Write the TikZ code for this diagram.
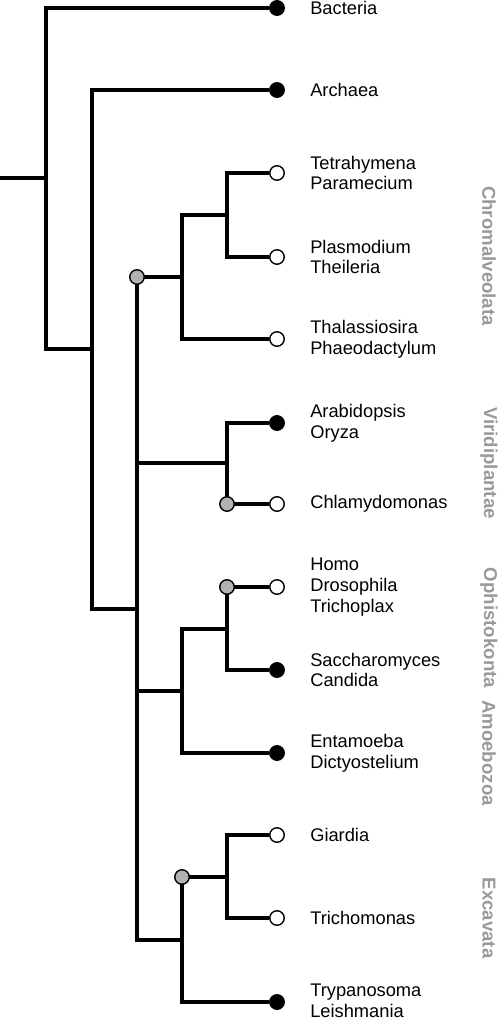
\documentclass[tikz,border=0pt]{standalone}
\usepackage{fontspec}
\setmainfont{Liberation Sans}
\usepackage{tikz}
\usetikzlibrary{positioning}
\definecolor{nodegray}{RGB}{178,178,178}
\definecolor{cladegray}{RGB}{153,153,153}
\tikzset{
    branch/.style={line width=1.9pt, black},
    tipfull/.style={circle, draw=black, fill=black, line width=0.8pt, minimum size=0.29cm, inner sep=0pt},
    tipempty/.style={tipfull, fill=white},
    gaindot/.style={tipfull, fill=nodegray},
    taxon/.style={align=left, inner sep=0pt, font=\fontsize{10.4}{11.8}\selectfont},
    clade/.style={rotate=-90, inner sep=0pt, text=cladegray, font=\fontsize{10.6}{12.5}\selectfont\bfseries}
}

\begin{document}
\begin{tikzpicture}[x=0.2mm, y=-0.2mm]
    \useasboundingbox (0,0) rectangle (500,1019);

    % Internal nodes
    \coordinate (stub) at (0,178);
    \coordinate (root) at (46,178);
    \coordinate (life) at (92,349);
    \coordinate (euk) at (137,609);
    \coordinate (chrom) at (182,277);
    \coordinate (alveo) at (227,215);
    \coordinate (viri) at (227,463);
    \coordinate (opam) at (182,691);
    \coordinate (opis) at (227,629);
    \coordinate (exc) at (182,940);
    \coordinate (gitr) at (227,877);

    % Tips
    \node[tipfull] (bact) at (277,8) {};
    \node[tipfull] (arch) at (277,90) {};
    \node[tipempty] (tetra) at (277,173) {};
    \node[tipempty] (plas) at (277,257) {};
    \node[tipempty] (thal) at (277,339) {};
    \node[tipfull] (arab) at (277,423) {};
    \node[tipempty] (chla) at (277,504) {};
    \node[tipempty] (homo) at (277,587) {};
    \node[tipfull] (sacc) at (277,670) {};
    \node[tipfull] (enta) at (277,753) {};
    \node[tipempty] (giar) at (277,835) {};
    \node[tipempty] (tric) at (277,918) {};
    \node[tipfull] (tryp) at (277,1002) {};

    % Taxon names
    \node[taxon, right=0.5cm of bact] (bactname) {Bacteria};
    \node[taxon, right=0.5cm of arch] (archname) {Archaea};
    \node[taxon, right=0.5cm of tetra] (tetraname) {Tetrahymena\\Paramecium};
    \node[taxon, right=0.5cm of plas] (plasname) {Plasmodium\\Theileria};
    \node[taxon, right=0.5cm of thal] (thalname) {Thalassiosira\\Phaeodactylum};
    \node[taxon, right=0.5cm of arab] (arabname) {Arabidopsis\\Oryza};
    \node[taxon, right=0.5cm of chla] (chlaname) {Chlamydomonas};
    \node[taxon, right=0.5cm of homo] (homoname) {Homo\\Drosophila\\Trichoplax};
    \node[taxon, right=0.5cm of sacc] (saccname) {Saccharomyces\\Candida};
    \node[taxon, right=0.5cm of enta] (entaname) {Entamoeba\\Dictyostelium};
    \node[taxon, right=0.5cm of giar] (giarname) {Giardia};
    \node[taxon, right=0.5cm of tric] (tricname) {Trichomonas};
    \node[taxon, right=0.5cm of tryp, yshift=0.5pt] (trypname) {Trypanosoma\\Leishmania};

    % Supergroups
    \node[clade] (chromlab) at (489,256) {Chromalveolata};
    \node[clade] (virilab) at (489,463) {Viridiplantae};
    \node[clade] (opislab) at (489,628) {Ophistokonta};
    \node[clade] (amoelab) at (489,753) {Amoebozoa};
    \node[clade] (exclab) at (489,918) {Excavata};

    % Branches
    \draw[branch] (stub) -- (root);
    \draw[branch] (root) |- (bact);
    \draw[branch] (root) |- (life);
    \draw[branch] (life) |- (arch);
    \draw[branch] (life) |- (euk);
    \draw[branch] (euk) |- (chrom);
    \draw[branch] (euk) |- (viri);
    \draw[branch] (euk) |- (opam);
    \draw[branch] (euk) |- (exc);
    \draw[branch] (chrom) |- (alveo);
    \draw[branch] (chrom) |- (thal);
    \draw[branch] (alveo) |- (tetra);
    \draw[branch] (alveo) |- (plas);
    \draw[branch] (viri) |- (arab);
    \draw[branch] (viri) |- (chla);
    \draw[branch] (opam) |- (opis);
    \draw[branch] (opam) |- (enta);
    \draw[branch] (opis) |- (homo);
    \draw[branch] (opis) |- (sacc);
    \draw[branch] (exc) |- (gitr);
    \draw[branch] (exc) |- (tryp);
    \draw[branch] (gitr) |- (giar);
    \draw[branch] (gitr) |- (tric);

    % Gray markers
    \node[gaindot] (eukgain) at (euk |- chrom) {};
    \node[gaindot] (chlagain) at (viri |- chla) {};
    \node[gaindot] (opisgain) at (opis |- homo) {};
    \node[gaindot] (excgain) at (exc |- gitr) {};
\end{tikzpicture}
\end{document}
